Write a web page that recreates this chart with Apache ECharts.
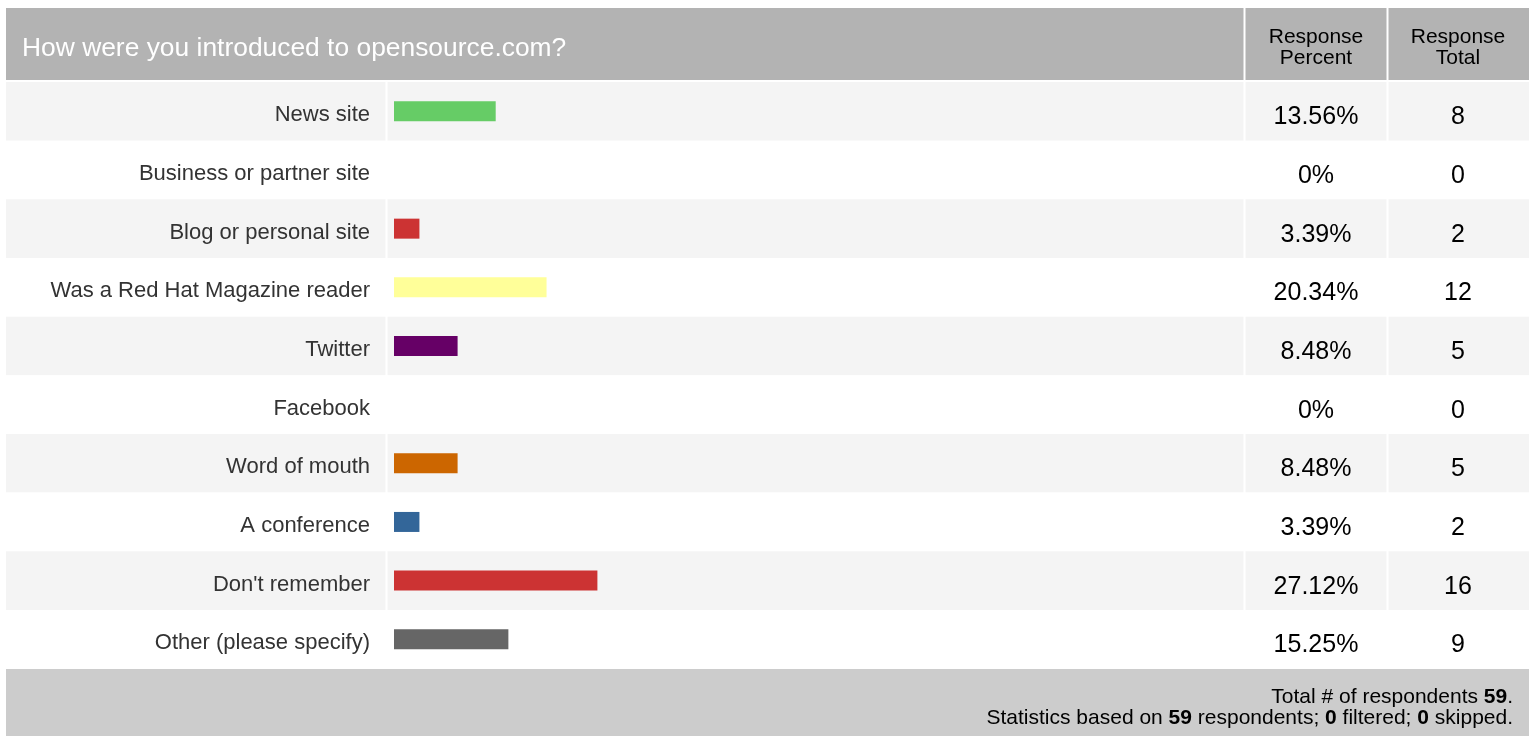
<!DOCTYPE html>
<html>
<head>
<meta charset="utf-8">
<title>How were you introduced to opensource.com?</title>
<script src="https://cdn.jsdelivr.net/npm/echarts@6/dist/echarts.min.js"></script>
<style>
  html, body { margin: 0; padding: 0; background: #fff; }
  #chart { width: 1533px; height: 736px; }
</style>
</head>
<body>
<div id="chart"></div>
<script>
// survey answers, top to bottom
const categories = [
  'News site', 'Business or partner site', 'Blog or personal site',
  'Was a Red Hat Magazine reader', 'Twitter', 'Facebook', 'Word of mouth',
  'A conference', "Don't remember", 'Other (please specify)'
]
const percents = [13.56, 0, 3.39, 20.34, 8.48, 0, 8.48, 3.39, 27.12, 15.25]
const totals = [8, 0, 2, 12, 5, 0, 5, 2, 16, 9]
const barColors = ['#66cc66', '#cccccc', '#cc3333', '#ffff99', '#660066',
  '#cccccc', '#cc6600', '#336699', '#cc3333', '#666666']
const respondents = 59
const filtered = 0
const skipped = 0

const FONT = "'Liberation Sans', Arial, sans-serif"
const W = 1533
const X0 = 6, X1 = 1529
const ROW_TOP = 82, ROW_BOTTOM = 668.6
const COL_PCT = 1316, COL_TOT = 1458

const pctLabels = percents.map(p => (p === 0 ? '0' : p.toFixed(2)) + '%')
const totLabels = totals.map(t => String(t))

const chart = echarts.init(document.getElementById('chart'), null, { renderer: 'canvas' })

// white column separators
const divider = (x, y1, y2) => ({
  type: 'rect', z: 10,
  shape: { x: x, y: y1, width: 2, height: y2 - y1 },
  style: { fill: '#ffffff' }
})

const footRich = {
  n: { fontSize: 21, fontFamily: FONT, color: '#111' },
  b: { fontSize: 21, fontFamily: FONT, color: '#000', fontWeight: 'bold' }
}

// cell text, pushed a little below the row middle like the original table
const cellLabel = (size, color, drop) => ({
  formatter: v => '{t|' + v + '}',
  rich: { t: { fontSize: size, fontFamily: FONT, color: color, padding: [drop, 0, 0, 0] } }
})

const option = {
  backgroundColor: '#ffffff',
  animation: false,
  title: {
    text: 'How were you introduced to opensource.com?',
    left: 22, top: 36, padding: 0,
    textStyle: { color: '#ffffff', fontSize: 26.4, fontWeight: 'normal', fontFamily: FONT }
  },
  grid: [
    // full-width grid, only for the alternating row stripes and the right columns
    { left: X0, right: W - X1, top: ROW_TOP, bottom: 736 - ROW_BOTTOM },
    // bar area
    { left: 394, width: 750, top: ROW_TOP, bottom: 736 - ROW_BOTTOM }
  ],
  xAxis: [
    { gridIndex: 0, type: 'value', show: false, min: 0, max: 1 },
    { gridIndex: 1, type: 'value', show: false, min: 0, max: 100 }
  ],
  yAxis: [
    {
      gridIndex: 0, type: 'category', inverse: true, data: categories,
      axisLine: { show: false }, axisTick: { show: false }, axisLabel: { show: false },
      splitLine: { show: false },
      splitArea: { show: true, areaStyle: { color: ['#f4f4f4', '#ffffff'] } }
    },
    {
      gridIndex: 0, type: 'category', inverse: true, data: pctLabels,
      position: 'right', offset: COL_PCT - X1,
      axisLine: { show: false }, axisTick: { show: false },
      axisLabel: Object.assign({ margin: 0, align: 'center' }, cellLabel(25, '#000', 12))
    },
    {
      gridIndex: 0, type: 'category', inverse: true, data: totLabels,
      position: 'right', offset: COL_TOT - X1,
      axisLine: { show: false }, axisTick: { show: false },
      axisLabel: Object.assign({ margin: 0, align: 'center' }, cellLabel(25, '#000', 12))
    },
    {
      gridIndex: 1, type: 'category', inverse: true, data: categories,
      axisLine: { show: false }, axisTick: { show: false },
      axisLabel: Object.assign({ margin: 24 }, cellLabel(22, '#333333', 8))
    }
  ],
  series: [
    {
      type: 'bar', xAxisIndex: 1, yAxisIndex: 3, barWidth: 20,
      data: percents.map((v, i) => ({ value: v, itemStyle: { color: barColors[i] } }))
    }
  ],
  graphic: [
    // header band
    { type: 'rect', z: 0, shape: { x: X0, y: 8, width: X1 - X0, height: 72 }, style: { fill: '#b3b3b3' } },
    // footer band
    { type: 'rect', z: 0, shape: { x: X0, y: 669, width: X1 - X0, height: 67 }, style: { fill: '#cccccc' } },
    divider(385.5, ROW_TOP, ROW_BOTTOM),
    divider(1243.5, 8, ROW_BOTTOM),
    divider(1386.5, 8, ROW_BOTTOM),
    {
      type: 'text', z: 11, x: COL_PCT, y: 48,
      style: { text: 'Response\nPercent', align: 'center', verticalAlign: 'middle',
        font: '21px ' + FONT, lineHeight: 21, fill: '#000' }
    },
    {
      type: 'text', z: 11, x: COL_TOT, y: 48,
      style: { text: 'Response\nTotal', align: 'center', verticalAlign: 'middle',
        font: '21px ' + FONT, lineHeight: 21, fill: '#000' }
    },
    {
      type: 'text', z: 11, x: 1513, y: 697,
      style: {
        text: '{n|Total # of respondents }{b|' + respondents + '}{n|.}',
        align: 'right', verticalAlign: 'middle', rich: footRich
      }
    },
    {
      type: 'text', z: 11, x: 1513, y: 718,
      style: {
        text: '{n|Statistics based on }{b|' + respondents + '}{n| respondents; }{b|' + filtered +
          '}{n| filtered; }{b|' + skipped + '}{n| skipped.}',
        align: 'right', verticalAlign: 'middle', rich: footRich
      }
    }
  ]
}

chart.setOption(option)
</script>
</body>
</html>
